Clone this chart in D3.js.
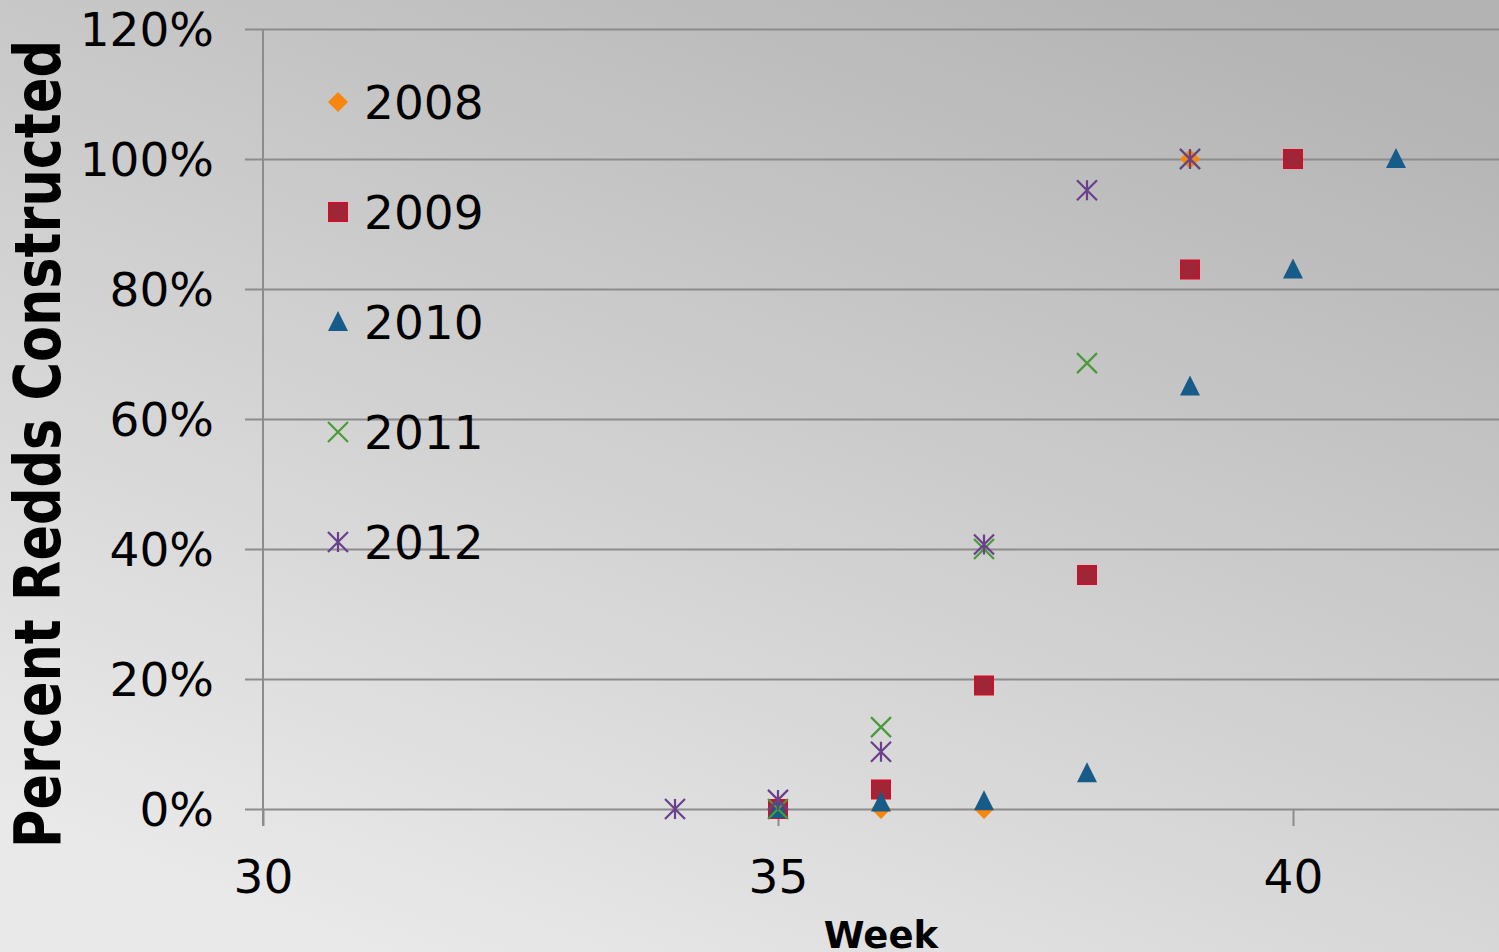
<!DOCTYPE html>
<html><head><meta charset="utf-8">
<script src="https://cdn.jsdelivr.net/npm/d3@7"></script>
<style>html,body{margin:0;padding:0;overflow:hidden;background:#d0d0d0}</style>
</head><body>
<svg id="c" width="1499" height="952"></svg>
<script>
const years = ["2008","2009","2010","2011","2012"];
const weeks2008 = [35,36,37,39];
const vals2008  = [0,0,0,1.00];
const weeks2009 = [35,36,37,38,39,40];
const vals2009  = [0,0.03,0.19,0.36,0.83,1.00];
const weeks2010 = [35,36,37,38,39,40,41];
const vals2010  = [0,0.01,0.012,0.055,0.65,0.83,1.00];
const weeks2011 = [35,36,37,38,39];
const vals2011  = [0,0.126,0.40,0.686,1.00];
const weeks2012 = [34,35,36,37,38,39];
const vals2012  = [0,0.014,0.088,0.407,0.952,1.00];
const xTicks = [30,35,40];
const yTicks = [0,0.2,0.4,0.6,0.8,1.0,1.2];
const xTitle = "Week";
const yTitle = "Percent Redds Constructed";

const seriesWeeks = [weeks2008,weeks2009,weeks2010,weeks2011,weeks2012];
const seriesVals = [vals2008,vals2009,vals2010,vals2011,vals2012];
const shapes = ["diamond","square","triangle","x","star"];
const colors = {
  diamond:{fill:"#f7860f",stroke:"#f7860f"},
  square:{fill:"#9e2636",stroke:"#c8122c"},
  triangle:{fill:"#175c89",stroke:"#175c89"},
  x:{fill:"none",stroke:"#4b9a3a"},
  star:{fill:"none",stroke:"#6a3f8c"}
};

const svg = d3.select("#c");
const W = 1499, H = 952;
const defs = svg.append("defs");
const grad = defs.append("linearGradient").attr("id","bg")
  .attr("x1","0.25").attr("y1","1").attr("x2","0.85").attr("y2","0");
grad.append("stop").attr("offset","0").attr("stop-color","#e9e9e9");
grad.append("stop").attr("offset","1").attr("stop-color","#b3b3b3");
svg.append("rect").attr("width",W).attr("height",H).attr("fill","url(#bg)");

const x = d3.scaleLinear().domain([30,42]).range([263,1499]);
const y = d3.scaleLinear().domain([0,1.2]).range([809,29]);
const gridColor = "#8c8c8c";

// horizontal gridlines + y axis labels
const yAxis = d3.axisLeft(y).tickValues(yTicks).tickFormat(d3.format(".0%"))
  .tickSizeInner(-(x.range()[1]-x.range()[0])).tickSizeOuter(0).tickPadding(49);
const gy = svg.append("g").attr("transform",`translate(${x(30)},0)`).call(yAxis);
gy.select(".domain").remove();
gy.selectAll(".tick line").attr("stroke",gridColor).attr("stroke-width",2).attr("x1",-18);
gy.selectAll(".tick text").attr("font-family","'DejaVu Sans', Verdana, sans-serif")
  .attr("font-size",47).attr("fill","#000").attr("dy","0.36em");

// vertical axis line
svg.append("line").attr("x1",x(30)).attr("x2",x(30)).attr("y1",y(1.2)).attr("y2",y(0)+17)
  .attr("stroke",gridColor).attr("stroke-width",2);

// x axis
const xAxis = d3.axisBottom(x).tickValues(xTicks).tickFormat(d3.format("d"))
  .tickSizeInner(17).tickSizeOuter(0).tickPadding(43);
const gx = svg.append("g").attr("transform",`translate(0,${y(0)})`).call(xAxis);
gx.select(".domain").remove();
gx.selectAll(".tick line").attr("stroke",gridColor).attr("stroke-width",2);
gx.selectAll(".tick text").attr("font-family","'DejaVu Sans', Verdana, sans-serif")
  .attr("font-size",47).attr("fill","#000").attr("dy","0.5em");

// titles
svg.append("text").attr("x",(x.range()[0]+x.range()[1])/2).attr("y",948)
  .attr("text-anchor","middle").attr("font-family","'DejaVu Sans', Verdana, sans-serif")
  .attr("font-weight","bold").attr("font-size",37).attr("fill","#000").text(xTitle);
svg.append("text").attr("transform","translate(60,444) rotate(-90)")
  .attr("text-anchor","middle").attr("font-family","'Liberation Sans Narrow','DejaVu Sans Condensed',sans-serif")
  .attr("font-weight","bold").attr("font-size",64).attr("fill","#000")
  .attr("textLength",808).attr("lengthAdjust","spacingAndGlyphs").text(yTitle);

function drawMarker(g, shape, cx, cy){
  const c = colors[shape];
  const s = 10;
  if(shape==="diamond"){
    g.append("path").attr("d",`M${cx},${cy-s}L${cx+s},${cy}L${cx},${cy+s}L${cx-s},${cy}Z`).attr("fill",c.fill);
  } else if(shape==="square"){
    g.append("rect").attr("x",cx-9).attr("y",cy-9).attr("width",18).attr("height",18)
      .attr("fill",c.fill).attr("stroke",c.stroke).attr("stroke-width",2);
  } else if(shape==="triangle"){
    g.append("path").attr("d",`M${cx},${cy-11}L${cx+10},${cy+9}L${cx-10},${cy+9}Z`).attr("fill",c.fill);
  } else if(shape==="x"){
    g.append("path").attr("d",`M${cx-s},${cy-s}L${cx+s},${cy+s}M${cx-s},${cy+s}L${cx+s},${cy-s}`)
      .attr("stroke",c.stroke).attr("stroke-width",2.2).attr("fill","none");
  } else {
    g.append("path").attr("d",`M${cx-s},${cy-s}L${cx+s},${cy+s}M${cx-s},${cy+s}L${cx+s},${cy-s}M${cx},${cy-s}L${cx},${cy+s}`)
      .attr("stroke",c.stroke).attr("stroke-width",2.2).attr("fill","none");
  }
}

// points
seriesWeeks.forEach((wk,i)=>{
  const g = svg.append("g").attr("class","series s"+years[i]);
  wk.forEach((w,j)=>drawMarker(g, shapes[i], x(w), y(seriesVals[i][j])));
});

// legend
const lg = svg.append("g");
years.forEach((yr,i)=>{
  const cy = 102 + i*110;
  drawMarker(lg, shapes[i], 338, cy);
  lg.append("text").attr("x",364).attr("y",cy).attr("dy","0.36em")
    .attr("font-family","'DejaVu Sans', Verdana, sans-serif").attr("font-size",47)
    .attr("fill","#000").text(yr);
});
</script>
</body></html>
